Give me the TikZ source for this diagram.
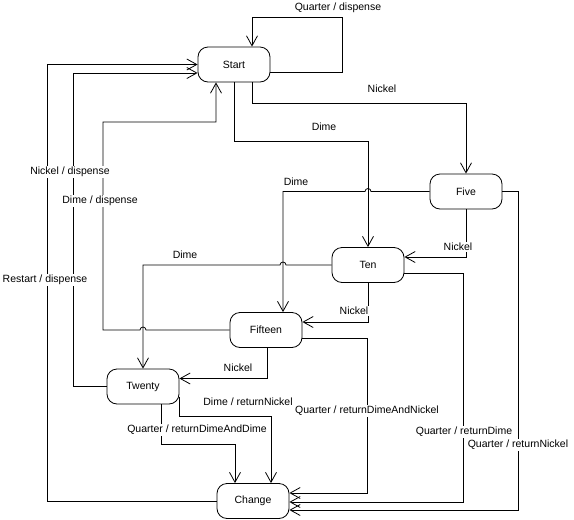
\documentclass[tikz,border=0pt]{standalone}
\usepackage{fontspec}
\setmainfont{Liberation Sans}
\usetikzlibrary{arrows.meta}

\begin{document}
\begin{tikzpicture}[x=1pt, y=-1pt,
    state/.style={draw, rounded corners=10pt, minimum width=72pt, minimum height=35pt,
        line width=0.8pt, font=\fontsize{10.5}{12}\selectfont},
    lbl/.style={fill=white, inner sep=1pt, font=\fontsize{10.5}{12}\selectfont},
    trans/.style={line width=0.8pt, -{Straight Barb[length=10pt, width=11pt]}},
    hop/.style={start angle=0, end angle=180, radius=3pt}]
    \useasboundingbox (0,0) rectangle (574,520);

    % Estados
    \node[state] (start) at (234,64.5) {Start};
    \node[state] (five) at (466,191.5) {Five};
    \node[state] (ten) at (368,265) {Ten};
    \node[state] (fifteen) at (266,330) {Fifteen};
    \node[state] (twenty) at (143,386.5) {Twenty};
    \node[state] (change) at (253,501) {Change};

    % Transiciones desde Start
    \draw[trans] ([yshift=-7.5pt]start.east) -| (342,17) -| ([xshift=18pt]start.north);
    \draw[trans] ([xshift=18pt]start.south) -- ++(0,21) -| (five.north);
    \draw[trans] (start.south) -- ++(0,59) -| (ten.north);

    % Transiciones desde Five
    \draw[trans] (five.west) -- (371,191.5) arc[hop] -| ([xshift=17pt]fifteen.north);
    \draw[trans] (five.south) |- ([yshift=8pt]ten.east);
    \draw[trans] (five.east) -| (518,510) -- ([yshift=-9pt]change.east);

    % Transiciones desde Ten
    \draw[trans] (ten.west) -- (286,265) arc[hop] -| (twenty.north);
    \draw[trans] (ten.south) |- ([yshift=8pt]fifteen.east);
    \draw[trans] ([yshift=-8pt]ten.east) -| (463,502) -- ([yshift=-1pt]change.east);

    % Transiciones desde Fifteen
    \draw[trans] (fifteen.west) -- (146,330) arc[hop] -| (103,122) -| ([xshift=-18pt]start.south);
    \draw[trans] ([xshift=1pt]fifteen.south) |- ([yshift=8pt]twenty.east);
    \draw[trans] ([yshift=-8pt]fifteen.east) -| (367,493) -- ([yshift=8pt]change.east);

    % Transiciones desde Twenty
    \draw[trans] (twenty.west) -| (73,73) -- ([yshift=-8.5pt]start.west);
    \draw[trans] ([xshift=18pt]twenty.south) |- (235,444) -- ([xshift=-18pt]change.north);
    \draw[trans] ([yshift=-10pt]twenty.east) |- (271,416) -- ([xshift=18pt]change.north);

    % Transicion desde Change
    \draw[trans] (change.west) -| (47,64.5) -- (start.west);

    % Etiquetas
    \node[lbl] (lqd) at (338,8) {Quarter / dispense};
    \node[lbl] (lsn) at (382,89) {Nickel};
    \node[lbl] (lsd) at (324,127) {Dime};
    \node[lbl] (lfd) at (296,182) {Dime};
    \node[lbl] (lfn) at (458,247) {Nickel};
    \node[lbl] (ltn) at (354,311) {Nickel};
    \node[lbl] (ltd) at (185,255) {Dime};
    \node[lbl] (lxn) at (238,368) {Nickel};
    \node[lbl] (lwdn) at (248,402) {Dime / returnNickel};
    \node[lbl] (lwqd) at (197,430) {Quarter / returnDimeAndDime};
    \node[lbl] (lxq) at (367,411) {Quarter / returnDimeAndNickel};
    \node[lbl] (ltq) at (464,432) {Quarter / returnDime};
    \node[lbl] (lfq) at (518,445) {Quarter / returnNickel};
    \node[lbl] (lwn) at (70,172) {Nickel / dispense};
    \node[lbl] (lxd) at (100,201) {Dime / dispense};
    \node[lbl] (lcr) at (45,280) {Restart / dispense};
\end{tikzpicture}
\end{document}
